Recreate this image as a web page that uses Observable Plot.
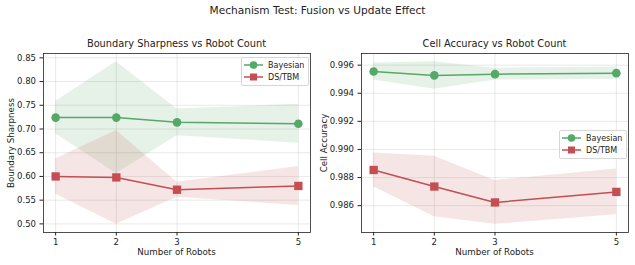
<!DOCTYPE html>
<html>
<head>
<meta charset="utf-8">
<script src="https://cdn.jsdelivr.net/npm/d3@7"></script>
<script src="https://cdn.jsdelivr.net/npm/@observablehq/plot@0.6"></script>
<style>
  body { margin: 0; background: #fff; font-family: "DejaVu Sans", sans-serif; color: #222; }
  #root { position: relative; width: 635px; height: 265px; overflow: hidden; }
  .abs { position: absolute; white-space: nowrap; }
  .suptitle { font-size: 10.6px; left: 0; width: 635px; text-align: center; top: 4px; }
  .ptitle { font-size: 9.8px; text-align: center; }
  .xlabel { font-size: 8.7px; text-align: center; }
  .ylabel { font-size: 8.7px; transform: translate(-50%, -50%) rotate(-90deg); }
  .legend { font-size: 8px; background: rgba(255,255,255,0.85); border: 1px solid #d6d6d6; border-radius: 2px; padding: 1px 4px 1px 2px; }
  .legend .row { display: flex; align-items: center; height: 12.3px; }
  .legend svg { margin-right: 5px; }
</style>
</head>
<body>
<div id="root"></div>
<script>
// ---- data ----
const robots = [1, 2, 3, 5];
const seriesNames = ["Bayesian", "DS/TBM"];
const seriesColors = ["#55A868", "#C44E52"];

const bsBayesMean = [0.724, 0.724, 0.714, 0.711];
const bsBayesStd  = [0.034, 0.118, 0.028, 0.041];
const bsDsMean    = [0.600, 0.598, 0.572, 0.580];
const bsDsStd     = [0.037, 0.099, 0.016, 0.041];

const caBayesMean = [0.99555, 0.99527, 0.99536, 0.99543];
const caBayesStd  = [0.00060, 0.00098, 0.00042, 0.00043];
const caDsMean    = [0.98854, 0.98736, 0.98623, 0.98698];
const caDsStd     = [0.00120, 0.00215, 0.00156, 0.00163];

const bsTicks = [0.50, 0.55, 0.60, 0.65, 0.70, 0.75, 0.80, 0.85];
const caTicks = [0.986, 0.988, 0.990, 0.992, 0.994, 0.996];

const suptitle = "Mechanism Test: Fusion vs Update Effect";
const titles = ["Boundary Sharpness vs Robot Count", "Cell Accuracy vs Robot Count"];
const xLabel = "Number of Robots";
const yLabels = ["Boundary Sharpness", "Cell Accuracy"];

// ---- helpers ----
function rows(mean, std, name) {
  return robots.map((r, i) => ({ x: r, y: mean[i], lo: mean[i] - std[i], hi: mean[i] + std[i], s: name }));
}
function padDomain(lo, hi) { const m = (hi - lo) * 0.05; return [lo - m, hi + m]; }

const root = document.getElementById("root");
function addDiv(cls, text, style) {
  const d = document.createElement("div");
  d.className = "abs " + cls;
  d.textContent = text;
  Object.assign(d.style, style);
  root.appendChild(d);
  return d;
}

addDiv("suptitle", suptitle, {});

function panel(opts) {
  const { left, width, mL, mR, data, ticks, fmt } = opts;
  const all = data.flat();
  const yDom = padDomain(d3.min(all, d => d.lo), d3.max(all, d => d.hi));
  const xDom = padDomain(d3.min(robots), d3.max(robots));
  const marks = [
    Plot.gridX(robots, { stroke: "#b0b0b0", strokeOpacity: 0.35, strokeWidth: 0.8 }),
    Plot.gridY(ticks, { stroke: "#b0b0b0", strokeOpacity: 0.35, strokeWidth: 0.8 }),
  ];
  data.forEach((d, i) => {
    marks.push(Plot.areaY(d, { x: "x", y1: "lo", y2: "hi", fill: seriesColors[i], fillOpacity: 0.15 }));
  });
  data.forEach((d, i) => {
    marks.push(Plot.line(d, { x: "x", y: "y", stroke: seriesColors[i], strokeWidth: 1.5 }));
    marks.push(Plot.dot(d, { x: "x", y: "y", fill: seriesColors[i], r: i === 0 ? 4.3 : 4.7, symbol: i === 0 ? "circle" : "square" }));
  });
  marks.push(Plot.axisX(robots, { tickSize: 3.5, tickPadding: 3, tickFormat: d3.format("d"), label: null }));
  marks.push(Plot.axisY(ticks, { tickSize: 3.5, tickPadding: 4, tickFormat: d3.format(fmt), label: null }));
  marks.push(Plot.frame({ stroke: "#222", strokeWidth: 0.8 }));
  const svg = Plot.plot({
    width, height: 265,
    marginLeft: mL, marginRight: mR, marginTop: 53, marginBottom: 33,
    x: { domain: xDom },
    y: { domain: yDom },
    style: { fontFamily: "DejaVu Sans", fontSize: "8.5px", color: "#222", background: "transparent" },
    marks
  });
  svg.style.position = "absolute";
  svg.style.left = left + "px";
  svg.style.top = "0px";
  root.appendChild(svg);
}

panel({ left: 0, width: 318, mL: 43, mR: 8, data: [rows(bsBayesMean, bsBayesStd, seriesNames[0]), rows(bsDsMean, bsDsStd, seriesNames[1])], ticks: bsTicks, fmt: ".2f" });
panel({ left: 318, width: 317, mL: 43, mR: 7, data: [rows(caBayesMean, caBayesStd, seriesNames[0]), rows(caDsMean, caDsStd, seriesNames[1])], ticks: caTicks, fmt: ".3f" });

// titles and labels
addDiv("ptitle", titles[0], { left: "43px", width: "267px", top: "38px" });
addDiv("ptitle", titles[1], { left: "361px", width: "267px", top: "38px" });
addDiv("xlabel", xLabel, { left: "43px", width: "267px", top: "247px" });
addDiv("xlabel", xLabel, { left: "361px", width: "267px", top: "247px" });
addDiv("ylabel", yLabels[0], { left: "11px", top: "142.5px" });
addDiv("ylabel", yLabels[1], { left: "324px", top: "142.5px" });

// legends
function legend(style) {
  const d = document.createElement("div");
  d.className = "abs legend";
  Object.assign(d.style, style);
  seriesNames.forEach((name, i) => {
    const row = document.createElement("div");
    row.className = "row";
    const ns = "http://www.w3.org/2000/svg";
    const s = document.createElementNS(ns, "svg");
    s.setAttribute("width", 19); s.setAttribute("height", 10);
    const ln = document.createElementNS(ns, "line");
    ln.setAttribute("x1", 0); ln.setAttribute("x2", 19); ln.setAttribute("y1", 5); ln.setAttribute("y2", 5);
    ln.setAttribute("stroke", seriesColors[i]); ln.setAttribute("stroke-width", 1.5);
    s.appendChild(ln);
    let mk;
    if (i === 0) {
      mk = document.createElementNS(ns, "circle");
      mk.setAttribute("cx", 9.5); mk.setAttribute("cy", 5); mk.setAttribute("r", 3.8);
    } else {
      mk = document.createElementNS(ns, "rect");
      mk.setAttribute("x", 6); mk.setAttribute("y", 1.5); mk.setAttribute("width", 7); mk.setAttribute("height", 7);
    }
    mk.setAttribute("fill", seriesColors[i]);
    s.appendChild(mk);
    row.appendChild(s);
    const t = document.createElement("span");
    t.textContent = name;
    row.appendChild(t);
    d.appendChild(row);
  });
  root.appendChild(d);
}
legend({ left: "241px", top: "57px" });
legend({ left: "559px", top: "130px" });
</script>
</body>
</html>
